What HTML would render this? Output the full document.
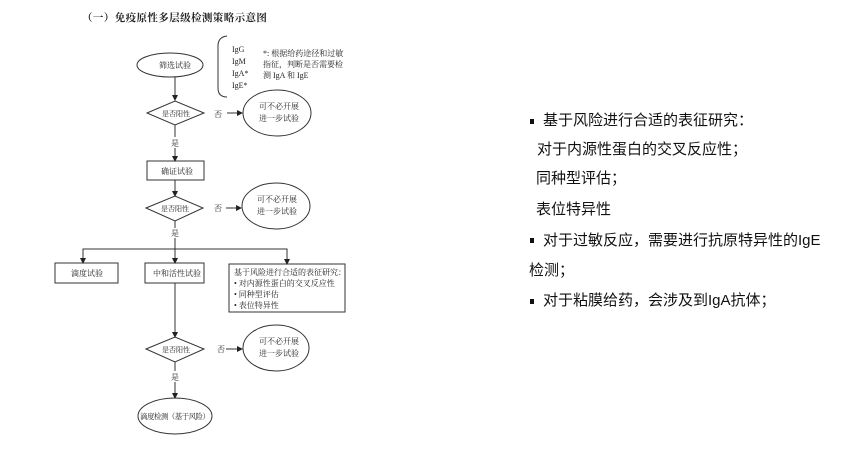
<!DOCTYPE html>
<html><head><meta charset="utf-8"><style>
body{margin:0;background:#fff;width:851px;height:450px;overflow:hidden}
svg{display:block}
.s{font-family:"Liberation Serif","Noto Serif CJK SC",serif;font-size:8px;fill:#222}
.r{font-family:"Liberation Sans","Noto Sans CJK SC",sans-serif;font-size:15px;fill:#111}
</style></head><body>
<svg width="851" height="450" viewBox="0 0 851 450">
<defs><marker id="a" markerWidth="6" markerHeight="6" refX="5" refY="3" orient="auto" markerUnits="userSpaceOnUse"><path d="M0,0 L6,3 L0,6z" fill="#222"/></marker></defs>
<text x="82" y="21" style="font-family:'Liberation Serif','Noto Serif CJK SC',serif;font-size:10.5px;letter-spacing:0.4px;font-weight:bold;fill:#222">（一）免疫原性多层级检测策略示意图</text>
<g stroke="#333" stroke-width="1" fill="none">
<ellipse cx="170" cy="65" rx="33" ry="12"/>
<path d="M227,36 Q218,37 218,46 L218,88 Q218,97 227,97"/>
<line x1="175" y1="77" x2="175" y2="100" marker-end="url(#a)"/>
<polygon points="147,113 175,101 204,113 175,125"/>
<line x1="227" y1="113" x2="242" y2="113" marker-end="url(#a)"/>
<ellipse cx="277" cy="113" rx="34" ry="23"/>
<line x1="175" y1="125" x2="175" y2="137"/>
<line x1="175" y1="148" x2="175" y2="161" marker-end="url(#a)"/>
<rect x="147" y="161" width="57" height="19"/>
<line x1="175" y1="180" x2="175" y2="196" marker-end="url(#a)"/>
<polygon points="146,208 175,196 203,208 175,221"/>
<line x1="226" y1="208" x2="241" y2="208" marker-end="url(#a)"/>
<ellipse cx="276" cy="206" rx="34" ry="23"/>
<line x1="175" y1="221" x2="175" y2="228"/>
<line x1="175" y1="238" x2="175" y2="263" marker-end="url(#a)"/>
<polyline points="83,263 83,249 287,249 287,264" />
<line x1="83" y1="256" x2="83" y2="263" marker-end="url(#a)"/>
<line x1="287" y1="257" x2="287" y2="264" marker-end="url(#a)"/>
<rect x="55" y="263" width="63" height="20"/>
<rect x="145" y="263" width="59" height="20"/>
<rect x="229" y="264" width="116" height="48"/>
<line x1="175" y1="283" x2="175" y2="337" marker-end="url(#a)"/>
<polygon points="146,349 175,337 204,349 175,362"/>
<line x1="226" y1="349" x2="242" y2="349" marker-end="url(#a)"/>
<ellipse cx="276" cy="348" rx="33" ry="23"/>
<line x1="175" y1="362" x2="175" y2="371"/>
<line x1="175" y1="382" x2="175" y2="398" marker-end="url(#a)"/>
<ellipse cx="175" cy="416" rx="37" ry="18"/>
</g>
<g class="s">
<text x="159" y="68">筛选试验</text>
<text x="232" y="52">IgG</text><text x="232" y="64">IgM</text><text x="232" y="76">IgA*</text><text x="232" y="88">IgE*</text>
<text x="263" y="56">*: 根据给药途径和过敏</text><text x="263" y="67">指征，判断是否需要检</text><text x="263" y="78">测 IgA 和 IgE</text>
<text x="162" y="116" style="font-size:7px">是否阳性</text>
<text x="214" y="117">否</text>
<text x="259" y="109">可不必开展</text><text x="259" y="121">进一步试验</text>
<text x="171" y="146">是</text>
<text x="161" y="174">确证试验</text>
<text x="161" y="211" style="font-size:7px">是否阳性</text>
<text x="214" y="211">否</text>
<text x="257" y="202">可不必开展</text><text x="257" y="214">进一步试验</text>
<text x="171" y="236">是</text>
<text x="71" y="276">滴度试验</text>
<text x="153" y="276">中和活性试验</text>
<text x="234" y="275">基于风险进行合适的表征研究：</text>
<text x="234" y="286">•  对内源性蛋白的交叉反应性</text>
<text x="234" y="297">•  同种型评估</text>
<text x="234" y="308">•  表位特异性</text>
<text x="162" y="352" style="font-size:7px">是否阳性</text>
<text x="217" y="352">否</text>
<text x="259" y="344">可不必开展</text><text x="259" y="356">进一步试验</text>
<text x="171" y="380">是</text>
<text x="140" y="419" textLength="70" style="font-size:7.5px">滴度检测（基于风险）</text>
</g>
<g class="r">
<rect x="530" y="119" width="4" height="5" fill="#111"/>
<text x="543" y="125">基于风险进行合适的表征研究：</text>
<text x="537" y="154">对于内源性蛋白的交叉反应性；</text>
<text x="536" y="183">同种型评估；</text>
<text x="536" y="214">表位特异性</text>
<rect x="530" y="238" width="4" height="5" fill="#111"/>
<text x="543" y="245">对于过敏反应，需要进行抗原特异性的IgE</text>
<text x="529" y="275">检测；</text>
<rect x="530" y="299" width="4" height="5" fill="#111"/>
<text x="543" y="305">对于粘膜给药，会涉及到IgA抗体；</text>
</g>
</svg>
</body></html>
